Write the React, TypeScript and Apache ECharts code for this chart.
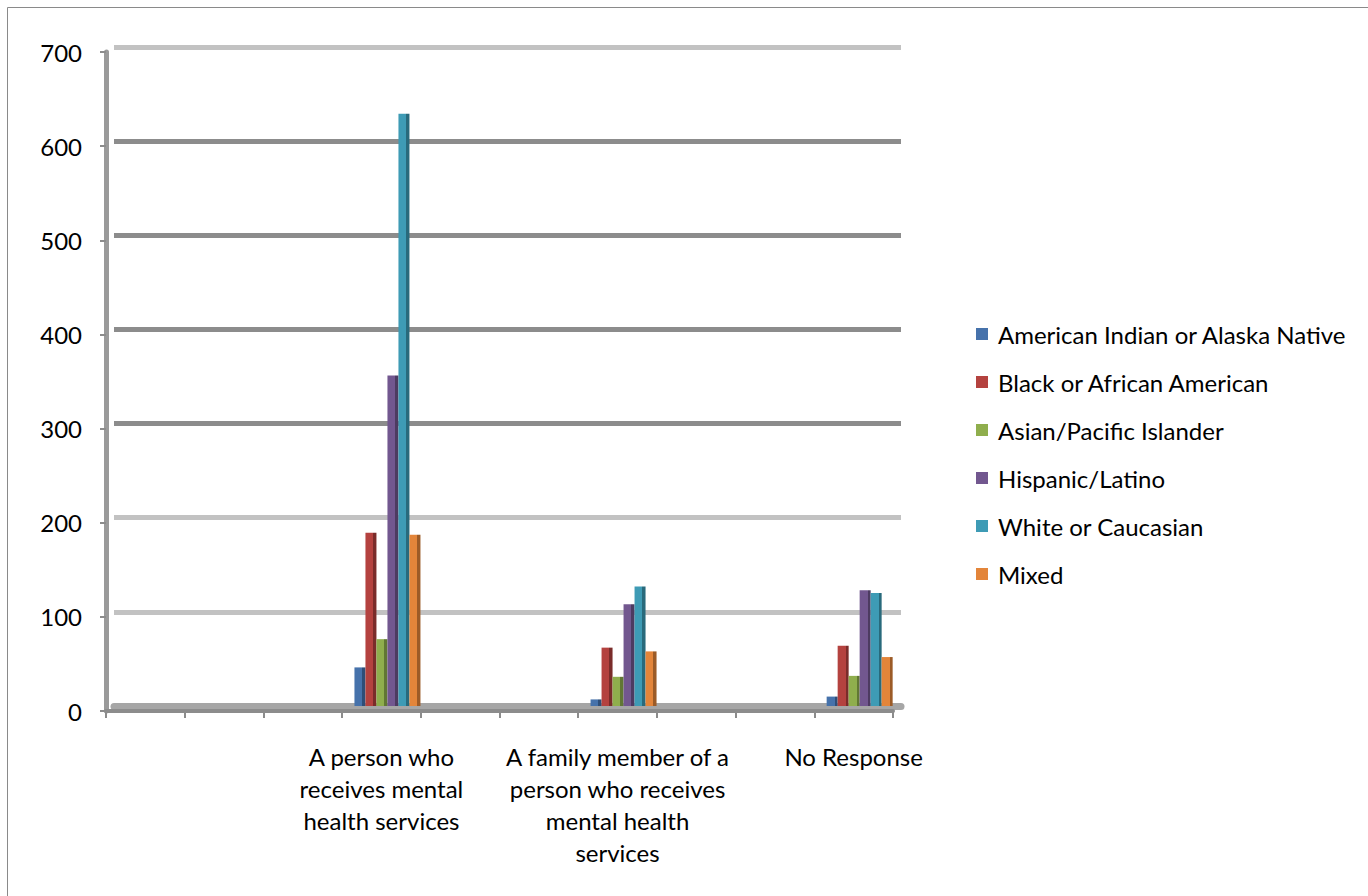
import React, { useEffect, useRef } from "react";
import * as echarts from "echarts";

const categories = [
  "", "", "",
  "A person who\nreceives mental\nhealth services",
  "", "",
  "A family member of a\nperson who receives\nmental health\nservices",
  "", "",
  "No Response",
];
const seriesNames = [
  "American Indian or Alaska Native",
  "Black or African American",
  "Asian/Pacific Islander",
  "Hispanic/Latino",
  "White or Caucasian",
  "Mixed",
];
// values per category slot (null = empty slot)
const americanIndian = [null, null, null, 41, null, null, 7, null, null, 10];
const black = [null, null, null, 184, null, null, 62, null, null, 64];
const asian = [null, null, null, 71, null, null, 31, null, null, 32];
const hispanic = [null, null, null, 351, null, null, 108, null, null, 123];
const white = [null, null, null, 629, null, null, 127, null, null, 120];
const mixed = [null, null, null, 182, null, null, 58, null, null, 52];
const yTicks = [0, 100, 200, 300, 400, 500, 600, 700];

const frontColors = ["#4672AB", "#B4423F", "#8FAE4D", "#72578F", "#3E9BB5", "#E3853A"];
const sideColors = ["#2F4E77", "#7A2C2A", "#617734", "#4D3B61", "#296A7C", "#9C5B27"];

const FONT = "Lato, 'Open Sans', sans-serif";

export default function App() {
  const ref = useRef<HTMLDivElement>(null);
  useEffect(() => {
    if (!ref.current) return;
    const chart = echarts.init(ref.current, null, { renderer: "svg" });
    const values = [americanIndian, black, asian, hispanic, white, mixed];
    const yMin = yTicks[0];
    const yMax = yTicks[yTicks.length - 1];
    const yInt = yTicks[1] - yTicks[0];
    const series = seriesNames.map((name, i) => ({
      name,
      type: "bar",
      xAxisIndex: 1,
      yAxisIndex: 1,
      barWidth: 11,
      barGap: "0%",
      data: values[i],
      itemStyle: {
        color: new echarts.graphic.LinearGradient(0, 0, 1, 0, [
          { offset: 0, color: frontColors[i] },
          { offset: 0.72, color: frontColors[i] },
          { offset: 0.72, color: sideColors[i] },
          { offset: 1, color: sideColors[i] },
        ]),
      },
      z: 5,
    }));
    chart.setOption({
      animation: false,
      backgroundColor: "#ffffff",
      textStyle: { fontFamily: FONT },
      graphic: [
        {
          type: "rect",
          shape: { x: 7.5, y: 7.5, width: 1370, height: 900 },
          style: { fill: "none", stroke: "#8a8a8a", lineWidth: 1 },
          silent: true,
        },
      ],
      legend: {
        orient: "vertical",
        left: 976,
        top: 322,
        itemWidth: 12,
        itemHeight: 12,
        itemGap: 24,
        icon: "rect",
        padding: 0,
        textStyle: { fontSize: 24, fontFamily: FONT, color: "#000", lineHeight: 24, padding: [0, 0, 0, 5] },
        data: seriesNames.map((n, i) => ({ name: n, itemStyle: { color: frontColors[i] } })),
      },
      grid: [
        { left: 106, top: 52, width: 787, height: 659 },
        { left: 112, top: 47, width: 787, height: 659 },
        { left: 114, top: 47, width: 787, height: 659 },
      ],
      xAxis: [
        {
          type: "category",
          gridIndex: 0,
          data: categories,
          boundaryGap: true,
          axisLine: { show: true, lineStyle: { color: "#8c8c8c", width: 4 } },
          axisTick: { show: true, interval: 0, length: 7, lineStyle: { color: "#8c8c8c", width: 2 } },
          axisLabel: {
            interval: 0,
            margin: 29,
            fontSize: 24,
            lineHeight: 32,
            color: "#000",
            fontFamily: FONT,
          },
          splitLine: { show: false },
          z: 3,
        },
        {
          type: "category",
          gridIndex: 1,
          data: categories,
          show: false,
        },
        {
          type: "category",
          gridIndex: 2,
          data: categories,
          axisLine: { show: true, lineStyle: { color: "#a6a6a6", width: 7 } },
          axisTick: { show: false },
          axisLabel: { show: false },
          splitLine: { show: false },
          z: 0,
        },
      ],
      yAxis: [
        {
          type: "value",
          gridIndex: 0,
          min: yMin,
          max: yMax,
          interval: yInt,
          axisLine: { show: true, lineStyle: { color: "#9a9a9a", width: 5 } },
          axisTick: { show: true, length: 6, lineStyle: { color: "#8c8c8c", width: 2 } },
          axisLabel: { margin: 24, fontSize: 24, color: "#000", fontFamily: FONT },
          splitLine: { show: false },
          z: 3,
        },
        {
          type: "value",
          gridIndex: 1,
          min: yMin,
          max: yMax,
          interval: yInt,
          show: false,
        },
        {
          type: "value",
          gridIndex: 2,
          min: yMin,
          max: yMax,
          interval: yInt,
          axisLine: { show: false },
          axisTick: { show: false },
          axisLabel: { show: false },
          splitLine: {
            show: true,
            lineStyle: {
              width: 5,
              color: ["#a6a6a6", "#c2c2c2", "#c2c2c2", "#8c8c8c", "#8c8c8c", "#8c8c8c", "#8c8c8c", "#c2c2c2"],
            },
          },
          z: 0,
        },
      ],
      series,
    });
    return () => chart.dispose();
  }, []);
  return (
    <div
      ref={ref}
      style={{ position: "absolute", left: 0, top: 0, width: 1368, height: 896 }}
    />
  );
}
